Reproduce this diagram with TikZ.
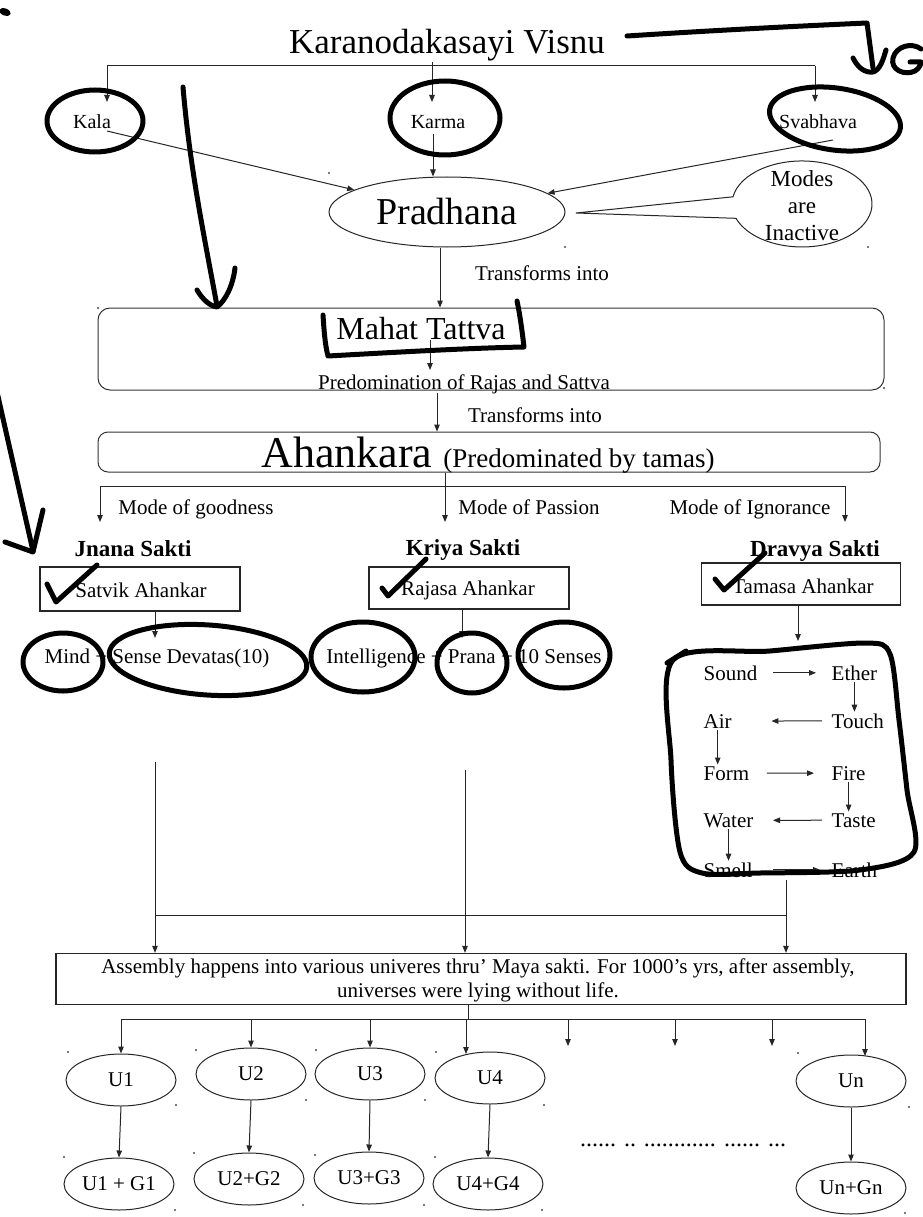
\documentclass[tikz,border=0pt]{standalone}
\usepackage{fontspec}
\setmainfont{Liberation Serif}
\usetikzlibrary{arrows.meta,shapes.geometric}
\begin{document}
\begin{tikzpicture}[x=1pt,y=-1pt,
  ln/.style={line width=1pt,draw=black!85},
  arr/.style={ln,-{Triangle[length=7pt,width=5.5pt]}},
  t21/.style={inner sep=0pt,anchor=base,font=\fontsize{21}{24}\selectfont},
  t20/.style={inner sep=0pt,anchor=base,font=\fontsize{20}{23}\selectfont},
  bold23/.style={inner sep=0pt,anchor=base,font=\fontsize{23}{26}\selectfont\bfseries},
  hand/.style={line width=5pt,line cap=round,line join=round,draw=black},
  uell/.style={ellipse,draw=black!85,line width=1pt,minimum width=110pt,minimum height=52pt,inner sep=0pt,font=\fontsize{21}{24}\selectfont},
  sbox/.style={draw=black!85,line width=1.3pt,inner sep=0pt},
  rbox/.style={draw=black!80,line width=1pt,rounded corners=12pt,inner sep=0pt},
  elem/.style={inner sep=1.5pt,anchor=base west,font=\fontsize{21}{24}\selectfont},
  speck/.style={fill=black!70},
]
\fill[white] (0,0) rectangle (922,1217);
\useasboundingbox (0,0) rectangle (922,1217);

% ---------- title and first level
\node[inner sep=0pt,anchor=base,font=\fontsize{35}{40}\selectfont] (title) at (447,54) {Karanodakasayi Visnu};
\coordinate (tj) at (432,66);
\coordinate (tl) at (107,66);
\coordinate (tr) at (815,66);
\draw[ln] (title.south -| tj) -- (tj);
\draw[ln] (tl) -- (tr);
\node[t20] (kala) at (92,129) {Kala};
\node[t20] (karma) at (438,129) {Karma};
\node[t20] (svab) at (818,129) {Svabhava};
\coordinate (kalain) at (107,102);
\coordinate (karmain) at (432,102);
\coordinate (svabin) at (815,102);
\draw[arr] (tl) -- (kalain);
\draw[arr] (tj) -- (karmain);
\draw[arr] (tr) -- (svabin);

% ---------- Pradhana
\node[ellipse,draw=black!85,line width=1pt,minimum width=236pt,minimum height=70pt,inner sep=0pt,font=\fontsize{38}{44}\selectfont] (prad) at (447,212) {Pradhana};
\coordinate (kalaout) at (107,131);
\coordinate (karmaout) at (433,134);
\coordinate (svabout) at (833,140);
\draw[arr] (kalaout) -- (prad);
\draw[arr] (svabout) -- (prad);
\draw[arr] (karmaout) -- (karmaout |- prad.north);

% callout
\draw[ln,fill=white] (733,196.8) arc[start angle=189.6,end angle=520.5,x radius=70,y radius=43] -- (576,213) -- cycle;
\node[inner sep=0pt,align=center,font=\fontsize{23}{27}\selectfont] (modes) at (802,206) {Modes\\are\\Inactive};

% ---------- Mahat Tattva
\node[rbox,minimum width=786pt,minimum height=82pt] (mahatbox) at (491,349) {};
\node[inner sep=0pt,anchor=base,font=\fontsize{32}{36}\selectfont] (mahat) at (421,339) {Mahat Tattva};
\coordinate (p2m) at (440,300);
\draw[arr] (prad.south -| p2m) -- (p2m |- mahatbox.north);
\node[t21] (tr1) at (542,280) {Transforms into};
\coordinate (mahatin) at (430,370);
\draw[arr] (mahat.south -| mahatin) -- (mahatin);
\node[t21] (pred) at (464,389) {Predomination of Rajas and Sattva};

% ---------- Ahankara
\node[rbox,minimum width=782pt,minimum height=40pt,rounded corners=10pt] (ahkbox) at (489,452) {};
\coordinate (predout) at (437,393);
\draw[arr] (predout) -- (predout |- ahkbox.north);
\node[t21] (tr2) at (535,422) {Transforms into};
\node[inner sep=0pt,anchor=base] (ahk) at (488,467) {\fontsize{44}{50}\selectfont Ahankara \fontsize{27}{30}\selectfont(Predominated by tamas)};

% ---------- three modes
\coordinate (mj) at (445,486);
\coordinate (ml) at (100,486);
\coordinate (mr) at (845,486);
\draw[ln] (ahkbox.south -| mj) -- (mj);
\draw[ln] (ml) -- (mr);
\coordinate (gin) at (100,522);
\coordinate (pin) at (445,522);
\coordinate (iin) at (845,522);
\draw[arr] (ml) -- (gin);
\draw[arr] (mj) -- (pin);
\draw[arr] (mr) -- (iin);
\node[t21] (mg) at (196,514) {Mode of goodness};
\node[t21] (mp) at (529,514) {Mode of Passion};
\node[t21] (mi) at (750,514) {Mode of Ignorance};

\node[bold23] (jnana) at (133,556) {Jnana Sakti};
\node[bold23] (kriya) at (463,555) {Kriya Sakti};
\node[bold23] (dravya) at (815,556) {Dravya Sakti};

\node[sbox,minimum width=200pt,minimum height=44pt] (satbox) at (140,589) {};
\node[t21] (sat) at (141,597) {Satvik Ahankar};
\node[sbox,minimum width=200pt,minimum height=42pt] (rajbox) at (469,588) {};
\node[t21] (raj) at (468,595) {Rajasa Ahankar};
\node[sbox,minimum width=199pt,minimum height=42pt] (tambox) at (801,584) {};
\node[t21] (tam) at (803,593) {Tamasa Ahankar};

\coordinate (satdn) at (155,638);
\coordinate (rajdn) at (462,638);
\coordinate (tamdn) at (798,641);
\draw[arr] (satbox.south -| satdn) -- (satdn);
\draw[arr] (rajbox.south -| rajdn) -- (rajdn);
\draw[arr] (tambox.south -| tamdn) -- (tamdn);

\node[t21] (mind) at (157,663) {Mind + Sense Devatas(10)};
\node[t21] (intel) at (464,663) {Intelligence + Prana + 10 Senses};

% ---------- elements
\node[elem] (sound) at (702,680) {Sound};
\node[elem] (ether) at (830,680) {Ether};
\node[elem] (air)   at (702,728) {Air};
\node[elem] (touch) at (830,728) {Touch};
\node[elem] (form)  at (702,780) {Form};
\node[elem] (fire)  at (830,780) {Fire};
\node[elem] (water) at (702,827) {Water};
\node[elem] (taste) at (830,827) {Taste};
\node[elem] (smell) at (702,877) {Smell};
\node[elem] (earth) at (830,877) {Earth};
\draw[arr] ([xshift=14pt]sound.east) -- ([xshift=-14pt]ether.west);
\draw[arr] (ether.south) -- (ether.south |- touch.north);
\draw[arr] ([xshift=-8pt]touch.west) -- ([xshift=38pt]air.east);
\draw[arr] (air.south) -- (air.south |- form.north);
\draw[arr] ([xshift=16pt]form.east) -- ([xshift=-16pt]fire.west);
\draw[arr] (fire.south) -- (fire.south |- taste.north);
\draw[arr] ([xshift=-8pt]taste.west) -- ([xshift=18pt]water.east);
\draw[arr] (water.south) -- (water.south |- smell.north);
\draw[arr] ([xshift=19pt]smell.east) -- ([xshift=-10pt]earth.west);

% ---------- assembly
\node[sbox,minimum width=850pt,minimum height=51pt] (asm) at (481,979) {};
\node[inner sep=0pt,align=center,font=\fontsize{21}{24}\selectfont] (asmt) at (478,980) {Assembly happens into various univeres thru' Maya sakti. For 1000's yrs, after assembly,\\universes were lying without life.};
\coordinate (a1) at (155,762);
\coordinate (a2) at (465,770);
\coordinate (a3) at (786,880);
\coordinate (b1) at (155,915);
\coordinate (b3) at (786,915);
\draw[arr] (a1) -- (a1 |- asm.north);
\draw[arr] (a2) -- (a2 |- asm.north);
\draw[arr] (a3) -- (a3 |- asm.north);
\draw[ln] (b1) -- (b3);

% ---------- universes
\node[uell] (u1) at (121,1080) {U1};
\node[uell] (u2) at (251,1074) {U2};
\node[uell] (u3) at (370,1074) {U3};
\node[uell] (u4) at (490,1078) {U4};
\node[uell] (un) at (851,1081) {Un};
\node[uell] (u1g) at (119,1184) {U1 + G1};
\node[uell] (u2g) at (249,1179) {U2+G2};
\node[uell] (u3g) at (369,1178) {U3+G3};
\node[uell] (u4g) at (488,1184) {U4+G4};
\node[uell] (ung) at (851,1188) {Un+Gn};

\coordinate (uj) at (468,1019);
\coordinate (ul) at (121,1019);
\coordinate (ur) at (865,1019);
\draw[ln] (asm.south -| uj) -- (uj);
\draw[ln] (ul) -- (ur);
\draw[arr] (ul) -- (u1.north);
\draw[arr] (ul -| u2.north) -- (u2.north);
\draw[arr] (ul -| u3.north) -- (u3.north);
\coordinate (u4in) at (466,1054);
\draw[arr] (u4in |- ul) -- (u4in);
\coordinate (f1) at (568,1046);
\coordinate (f2) at (675,1046);
\coordinate (f3) at (772,1046);
\draw[arr] (f1 |- ul) -- (f1);
\draw[arr] (f2 |- ul) -- (f2);
\draw[arr] (f3 |- ul) -- (f3);
\coordinate (unin) at (865,1056);
\draw[arr] (ur) -- (unin);
\draw[arr] (u1.south) -- (u1g.north);
\draw[arr] (u2.south) -- (u2g.north);
\draw[arr] (u3.south) -- (u3g.north);
\draw[arr] (u4.south) -- (u4g.north);
\draw[arr] (un.south) -- (ung.north);
\node[inner sep=0pt,anchor=base,font=\fontsize{24}{24}\selectfont] (dots) at (683,1146) {...... .. ............ ...... ...};

% ---------- stray corner specks of the drawing canvas
\foreach \p in {(329,173),(565,247),(868,247),(98,308),(884,388),
  (68,1052),(176,1105),(196,1050),(306,1100),(316,1050),(425,1100),
  (436,1052),(544,1105),(798,1053),(909,1107),
  (64,1157),(175,1210),(194,1153),(303,1205),(315,1155),(424,1205),
  (435,1157),(542,1210),(905,1213)}
  \fill[speck] \p circle[radius=1.1];

% ---------- handwritten annotations
\fill[black,rotate around={-20:(5,12)}] (5,12) ellipse[x radius=6,y radius=3.5];
\draw[hand] (627,36) .. controls (720,30) and (800,26) .. (867,23) -- (873,68);
\draw[hand] (853,58) .. controls (858,68) and (865,73) .. (873,72) .. controls (880,70) and (883,60) .. (886,50);
\draw[hand] (921,49) .. controls (912,42) and (896,46) .. (893,58) .. controls (890,70) and (905,76) .. (915,71) .. controls (920,68) and (921,63) .. (921,62) -- (910,62);
\draw[hand] (183,87) .. controls (190,170) and (205,240) .. (217,306);
\draw[hand] (197,290) .. controls (203,300) and (210,306) .. (217,307) .. controls (226,300) and (233,285) .. (235,268);
\draw[hand] (-3,392) -- (33,551);
\draw[hand] (5,542) -- (33,552) -- (43,510);
\draw[hand] (95,121) ellipse[x radius=48,y radius=31];
\draw[hand] (445,118) ellipse[x radius=55,y radius=37];
\draw[hand,rotate around={-8:(835,119)}] (835,119) ellipse[x radius=66,y radius=31];
\draw[hand] (323,315) .. controls (324,330) and (325,345) .. (328,356) .. controls (400,352) and (470,348) .. (524,347) .. controls (522,330) and (520,315) .. (517,301);
\draw[hand] (47,584) -- (56,602) -- (97,565);
\draw[hand] (382,588) -- (388,596) -- (426,559);
\draw[hand] (715,579) -- (724,590) -- (765,553);
\draw[hand] (63,662) ellipse[x radius=40,y radius=29];
\draw[hand,rotate around={-4:(208,660)}] (208,660) ellipse[x radius=99,y radius=35];
\draw[hand] (363,657) ellipse[x radius=52,y radius=35];
\draw[hand] (472,663) ellipse[x radius=35,y radius=30];
\draw[hand] (564,655) ellipse[x radius=46,y radius=33];
\draw[hand] (667,663) -- (686,651);
\draw[hand] plot[smooth cycle,tension=0.5] coordinates {(673,660) (770,651) (866,643) (890,654) (899,720) (907,790) (914,852) (860,870) (760,873) (702,873) (680,852) (671,760)};
\end{tikzpicture}
\end{document}
